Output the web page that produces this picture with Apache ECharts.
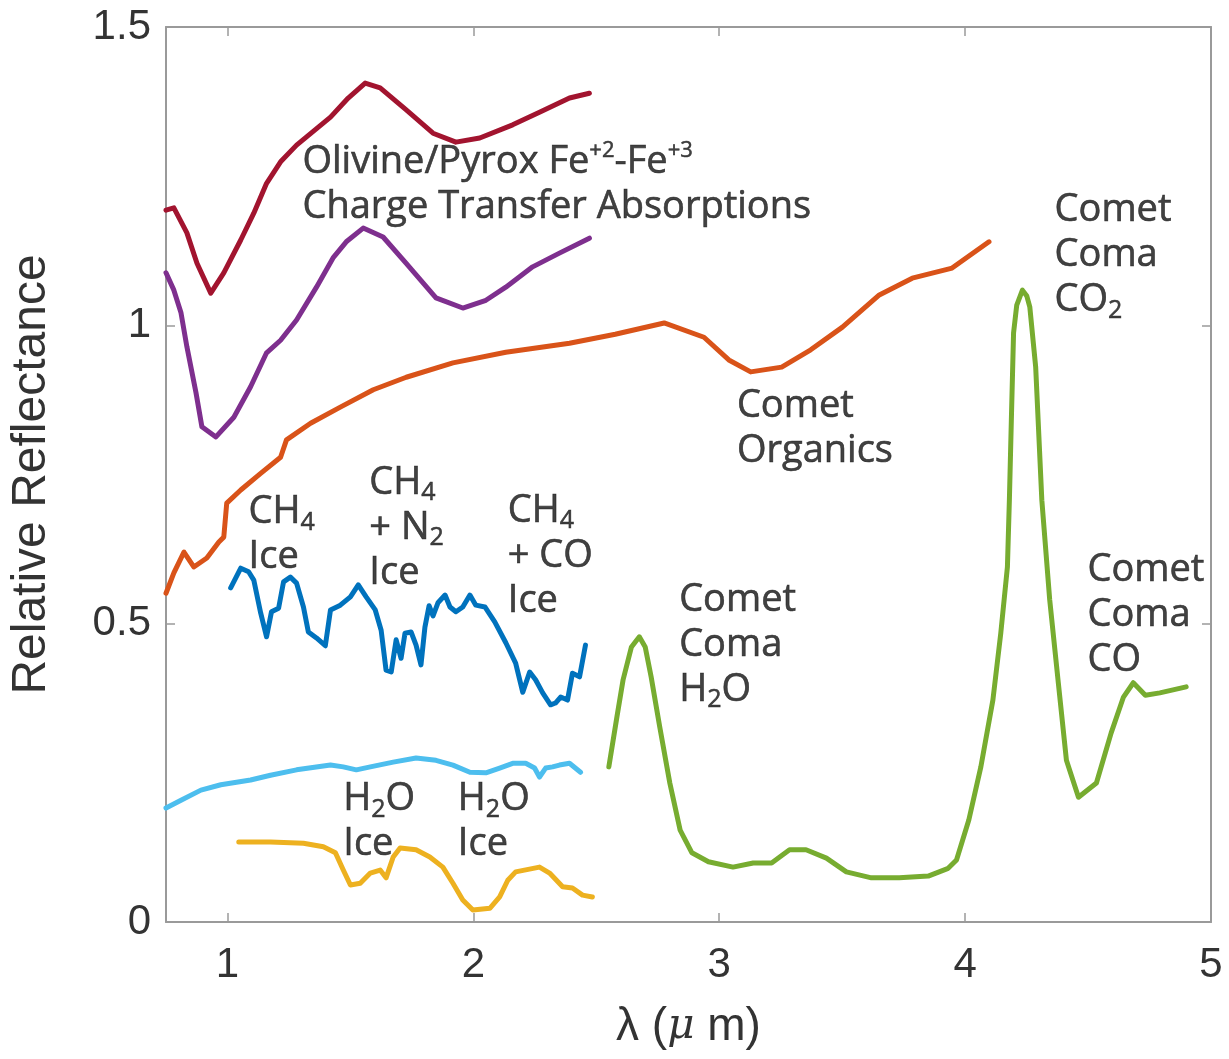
<!DOCTYPE html>
<html>
<head>
<meta charset="utf-8">
<script src="https://cdn.jsdelivr.net/npm/echarts@6/dist/echarts.min.js"></script>
<style>
  html, body { margin: 0; padding: 0; background: #ffffff; }
  #chart { width: 1229px; height: 1059px; }
</style>
</head>
<body>
<div id="chart"></div>
<script>
// ---------- data (wavelength in µm, relative reflectance) ----------
const xTickValues = [1, 2, 3, 4, 5];
const yTickValues = [0, 0.5, 1, 1.5];
const yTickLabels = ['0', '0.5', '1', '1.5'];

const olivineRedX = [0.75, 0.782, 0.835, 0.876, 0.932, 0.985, 1.054, 1.107, 1.159, 1.216, 1.281, 1.419, 1.491, 1.560, 1.621, 1.727, 1.836, 1.929, 2.026, 2.160, 2.269, 2.391, 2.472];
const olivineRedY = [1.193, 1.197, 1.155, 1.104, 1.054, 1.088, 1.143, 1.188, 1.238, 1.274, 1.302, 1.349, 1.381, 1.406, 1.398, 1.361, 1.322, 1.307, 1.314, 1.336, 1.357, 1.381, 1.389];

const pyroxPurpleX = [0.75, 0.782, 0.811, 0.835, 0.872, 0.896, 0.953, 1.026, 1.094, 1.159, 1.216, 1.281, 1.362, 1.431, 1.483, 1.552, 1.633, 1.727, 1.848, 1.957, 2.051, 2.132, 2.241, 2.350, 2.472];
const pyroxPurpleY = [1.088, 1.059, 1.021, 0.964, 0.887, 0.830, 0.813, 0.846, 0.897, 0.954, 0.975, 1.009, 1.064, 1.114, 1.140, 1.163, 1.148, 1.104, 1.046, 1.029, 1.042, 1.064, 1.098, 1.121, 1.146];

const organicsX = [0.75, 0.782, 0.823, 0.863, 0.916, 0.965, 0.985, 0.997, 1.054, 1.135, 1.216, 1.240, 1.338, 1.459, 1.593, 1.727, 1.917, 2.132, 2.391, 2.577, 2.776, 2.938, 3.039, 3.128, 3.254, 3.372, 3.501, 3.651, 3.785, 3.947, 4.097];
const organicsY = [0.551, 0.585, 0.620, 0.595, 0.610, 0.637, 0.645, 0.702, 0.724, 0.752, 0.779, 0.808, 0.836, 0.863, 0.892, 0.913, 0.937, 0.955, 0.970, 0.985, 1.004, 0.980, 0.942, 0.922, 0.930, 0.959, 0.997, 1.051, 1.079, 1.096, 1.140];

const ch4IceX = [1.013, 1.054, 1.086, 1.107, 1.135, 1.159, 1.179, 1.208, 1.228, 1.256, 1.281, 1.309, 1.329, 1.362, 1.398, 1.419, 1.459, 1.500, 1.532, 1.564, 1.601, 1.625, 1.645, 1.666, 1.686, 1.706, 1.722, 1.747, 1.767, 1.787, 1.803, 1.820, 1.836, 1.856, 1.885, 1.905, 1.929, 1.957, 1.986, 2.010, 2.047, 2.087, 2.132, 2.172, 2.201, 2.229, 2.253, 2.282, 2.314, 2.334, 2.355, 2.383, 2.403, 2.432, 2.456];
const ch4IceY = [0.560, 0.593, 0.587, 0.573, 0.518, 0.478, 0.520, 0.526, 0.570, 0.578, 0.568, 0.528, 0.486, 0.476, 0.463, 0.523, 0.531, 0.545, 0.565, 0.545, 0.523, 0.489, 0.422, 0.419, 0.473, 0.442, 0.484, 0.486, 0.464, 0.431, 0.494, 0.530, 0.513, 0.535, 0.548, 0.528, 0.520, 0.528, 0.548, 0.531, 0.528, 0.503, 0.468, 0.434, 0.385, 0.419, 0.406, 0.384, 0.364, 0.367, 0.377, 0.372, 0.417, 0.411, 0.464];

const h2oLightX = [0.75, 0.811, 0.892, 0.973, 1.094, 1.175, 1.281, 1.419, 1.471, 1.524, 1.581, 1.674, 1.767, 1.848, 1.917, 1.986, 2.051, 2.107, 2.160, 2.213, 2.249, 2.269, 2.294, 2.322, 2.350, 2.391, 2.436];
const h2oLightY = [0.191, 0.204, 0.221, 0.230, 0.238, 0.246, 0.255, 0.263, 0.260, 0.255, 0.260, 0.268, 0.275, 0.271, 0.263, 0.251, 0.250, 0.258, 0.266, 0.266, 0.258, 0.243, 0.258, 0.260, 0.263, 0.266, 0.251];

const h2oIceX = [1.046, 1.175, 1.309, 1.390, 1.439, 1.471, 1.500, 1.540, 1.581, 1.621, 1.645, 1.674, 1.702, 1.767, 1.823, 1.876, 1.917, 1.957, 1.998, 2.067, 2.107, 2.140, 2.172, 2.269, 2.310, 2.363, 2.403, 2.444, 2.484];
const h2oIceY = [0.134, 0.134, 0.132, 0.126, 0.116, 0.087, 0.062, 0.065, 0.082, 0.087, 0.074, 0.109, 0.124, 0.121, 0.109, 0.092, 0.065, 0.037, 0.020, 0.023, 0.042, 0.070, 0.084, 0.092, 0.082, 0.059, 0.057, 0.045, 0.042];

const comaX = [2.551, 2.584, 2.609, 2.643, 2.675, 2.699, 2.723, 2.758, 2.799, 2.841, 2.889, 2.956, 3.056, 3.138, 3.213, 3.286, 3.353, 3.436, 3.517, 3.619, 3.732, 3.850, 3.931, 3.965, 4.015, 4.064, 4.113, 4.145, 4.172, 4.180, 4.188, 4.197, 4.210, 4.233, 4.251, 4.263, 4.287, 4.312, 4.344, 4.379, 4.412, 4.461, 4.534, 4.594, 4.644, 4.684, 4.733, 4.792, 4.899];
const comaY = [0.260, 0.344, 0.406, 0.461, 0.478, 0.461, 0.411, 0.327, 0.233, 0.154, 0.116, 0.101, 0.092, 0.099, 0.099, 0.121, 0.121, 0.107, 0.084, 0.074, 0.074, 0.077, 0.090, 0.104, 0.171, 0.260, 0.372, 0.484, 0.595, 0.707, 0.841, 0.987, 1.034, 1.059, 1.049, 1.031, 0.930, 0.707, 0.540, 0.401, 0.271, 0.209, 0.233, 0.317, 0.377, 0.401, 0.380, 0.384, 0.394];

// annotation texts, anchored (top-left) in data coordinates
const annotationTexts = [
  'Olivine/Pyrox Fe{p|+2}-Fe{p|+3}\nCharge Transfer Absorptions',
  'Comet\nComa\nCO{s|2}',
  'Comet\nOrganics',
  'CH{s|4}\nIce',
  'CH{s|4}\n+ N{s|2}\nIce',
  'CH{s|4}\n+ CO\nIce',
  'Comet\nComa\nH{s|2}O',
  'H{s|2}O\nIce',
  'H{s|2}O\nIce',
  'Comet\nComa\nCO'
];
const annotationX = [1.305, 4.364, 3.072, 1.086, 1.577, 2.140, 2.837, 1.471, 1.937, 4.498];
const annotationY = [1.311, 1.230, 0.903, 0.724, 0.773, 0.727, 0.577, 0.243, 0.243, 0.627];

// ---------- chart ----------
const zip = (xs, ys) => xs.map((x, i) => [x, ys[i]]);

const axisGray = '#9a9a9a';
const labelGray = '#333333';
const tickFont = 'Liberation Sans, Arial, Helvetica, sans-serif';
const annFont = 'Open Sans, Noto Sans, sans-serif';
const annColor = '#111111';

function lineSeries(name, xs, ys, color) {
  return {
    name, type: 'line', data: zip(xs, ys),
    showSymbol: false, symbol: 'none', smooth: false,
    lineStyle: { color, width: 5, cap: 'round', join: 'round' },
    silent: true, z: 3
  };
}

const chart = echarts.init(document.getElementById('chart'), null, { renderer: 'canvas' });

const option = {
  animation: false,
  backgroundColor: '#ffffff',
  grid: { left: 162, right: 18, top: 27, bottom: 137, containLabel: false },
  xAxis: [
    {
      type: 'value', min: 0.75, max: 5, position: 'bottom',
      name: 'λ ({i|μ} m)', nameLocation: 'middle', nameGap: 82,
      nameTextStyle: {
        fontFamily: tickFont, fontSize: 46, color: labelGray,
        rich: { i: { fontFamily: 'DejaVu Serif, serif', fontStyle: 'italic', fontSize: 42, color: labelGray } }
      },
      axisLine: { show: true, onZero: false, lineStyle: { color: axisGray, width: 2 } },
      axisTick: { show: true, inside: true, length: 9, customValues: xTickValues, lineStyle: { color: axisGray, width: 1.5 } },
      axisLabel: { show: true, customValues: xTickValues, margin: 22, fontFamily: tickFont, fontSize: 42, color: labelGray, formatter: v => String(v) },
      splitLine: { show: false }
    },
    {
      type: 'value', min: 0.75, max: 5, position: 'top',
      axisLine: { show: true, onZero: false, lineStyle: { color: axisGray, width: 2 } },
      axisTick: { show: true, inside: true, length: 9, customValues: xTickValues, lineStyle: { color: axisGray, width: 1.5 } },
      axisLabel: { show: false },
      splitLine: { show: false }
    }
  ],
  yAxis: [
    {
      type: 'value', min: 0, max: 1.5, position: 'left',
      name: 'Relative Reflectance', nameLocation: 'middle', nameGap: 110, nameRotate: 90,
      nameTextStyle: { fontFamily: tickFont, fontSize: 48, color: labelGray },
      axisLine: { show: true, onZero: false, lineStyle: { color: axisGray, width: 2 } },
      axisTick: { show: true, inside: true, length: 9, customValues: yTickValues, lineStyle: { color: axisGray, width: 1.5 } },
      axisLabel: {
        show: true, customValues: yTickValues, margin: 15, fontFamily: tickFont, fontSize: 42, color: labelGray,
        formatter: v => yTickLabels[yTickValues.indexOf(v)] !== undefined ? yTickLabels[yTickValues.indexOf(v)] : String(v)
      },
      splitLine: { show: false }
    },
    {
      type: 'value', min: 0, max: 1.5, position: 'right',
      axisLine: { show: true, onZero: false, lineStyle: { color: axisGray, width: 2 } },
      axisTick: { show: true, inside: true, length: 9, customValues: yTickValues, lineStyle: { color: axisGray, width: 1.5 } },
      axisLabel: { show: false },
      splitLine: { show: false }
    }
  ],
  series: [
    lineSeries('Olivine', olivineRedX, olivineRedY, '#A2142F'),
    lineSeries('Pyroxene', pyroxPurpleX, pyroxPurpleY, '#7E2F8E'),
    lineSeries('Comet Organics', organicsX, organicsY, '#D95319'),
    lineSeries('CH4 Ice', ch4IceX, ch4IceY, '#0072BD'),
    lineSeries('H2O Ice (light)', h2oLightX, h2oLightY, '#4DBEEE'),
    lineSeries('H2O Ice', h2oIceX, h2oIceY, '#EDB120'),
    lineSeries('Comet Coma', comaX, comaY, '#77AC30'),
    {
      name: 'annotations', type: 'scatter', silent: true, z: 5,
      symbolSize: 0.01, itemStyle: { color: 'rgba(0,0,0,0)' },
      data: annotationTexts.map((t, i) => ({ value: [annotationX[i], annotationY[i]], text: t })),
      label: {
        show: true, position: [0, 0], align: 'left', verticalAlign: 'top',
        formatter: p => p.data.text,
        fontFamily: annFont, fontSize: 38, lineHeight: 45, color: annColor,
        textBorderColor: annColor, textBorderWidth: 0.6,
        rich: {
          s: { fontFamily: annFont, fontSize: 25, lineHeight: 24, verticalAlign: 'bottom', color: annColor, textBorderColor: annColor, textBorderWidth: 0.5 },
          p: { fontFamily: annFont, fontSize: 22, lineHeight: 30, verticalAlign: 'top', color: annColor, textBorderColor: annColor, textBorderWidth: 0.5 }
        }
      },
      emphasis: { disabled: true }
    }
  ]
};

chart.setOption(option);
</script>
</body>
</html>
